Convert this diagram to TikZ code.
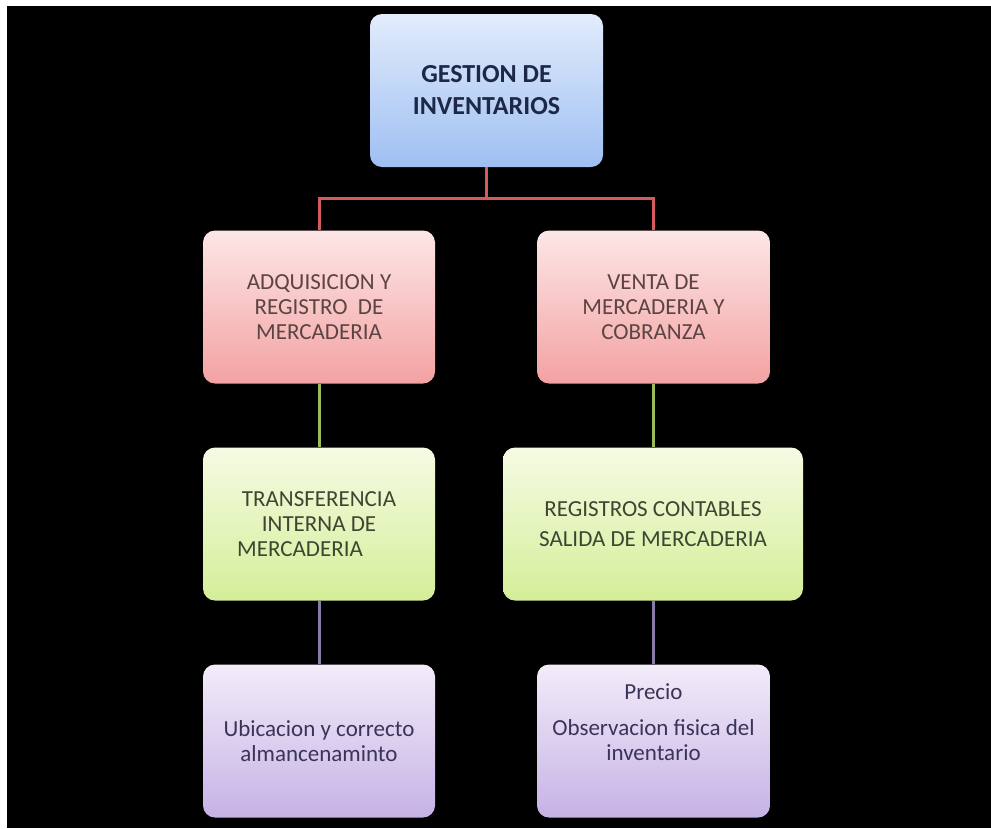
\documentclass[tikz,border=0pt]{standalone}
\usepackage{fontspec}
\setmainfont{Carlito}
\begin{document}
\definecolor{blueTop}{HTML}{E2ECFC}
\definecolor{blueBot}{HTML}{9EBFF2}
\definecolor{pinkTop}{HTML}{FDE6E6}
\definecolor{pinkBot}{HTML}{F3A2A2}
\definecolor{greenTop}{HTML}{F6FBE4}
\definecolor{greenBot}{HTML}{D4EE98}
\definecolor{purpTop}{HTML}{F2ECF9}
\definecolor{purpBot}{HTML}{C6B2E6}
\definecolor{lineRed}{HTML}{D65A5A}
\definecolor{lineGreen}{HTML}{9BBB59}
\definecolor{linePurp}{HTML}{8A7AAA}
\definecolor{txtBlue}{HTML}{1C2846}
\definecolor{txtPink}{HTML}{5C4444}
\definecolor{txtGreen}{HTML}{3E4632}
\definecolor{txtPurp}{HTML}{3A3458}
\begin{tikzpicture}[x=1pt,y=-1pt,
  box/.style={rounded corners=12pt, align=center, inner sep=0pt,
    minimum height=153pt, font=\fontsize{23}{25}\selectfont},
  topbox/.style={box, top color=blueTop, bottom color=blueBot, text=txtBlue,
    minimum width=233pt, font=\fontsize{26}{32}\selectfont\bfseries},
  pinkbox/.style={box, top color=pinkTop, bottom color=pinkBot, text=txtPink},
  greenbox/.style={box, top color=greenTop, bottom color=greenBot, text=txtGreen},
  purpbox/.style={box, top color=purpTop, bottom color=purpBot, text=txtPurp},
  link/.style={line width=3pt}]
  % page and dark backdrop
  \fill[white] (0,0) rectangle (991,828);
  \fill[black] (7,6) rectangle (991,828);
  \useasboundingbox (0,0) rectangle (991,828);

  % boxes
  \node[topbox] (top) at (486.5,90.5) {GESTION DE\\INVENTARIOS};
  \node[pinkbox, minimum width=232pt] (adq) at (319,307)
    {ADQUISICION Y\\REGISTRO~~DE\\MERCADERIA};
  \node[pinkbox, minimum width=233pt] (venta) at (653.5,307)
    {VENTA DE\\MERCADERIA Y\\COBRANZA};
  \node[greenbox, minimum width=232pt] (transf) at (319,524)
    {TRANSFERENCIA\\INTERNA DE\\MERCADERIA\hspace*{38pt}};
  \node[greenbox, minimum width=300pt] (regis) at (653,524)
    {REGISTROS CONTABLES\\[5pt]SALIDA DE MERCADERIA};
  \node[purpbox, minimum width=232pt] (ubic) at (319,741)
    {Ubicacion y correcto\\almancenaminto};
  \node[purpbox, minimum width=233pt] (precio) at (653.5,741)
    {\raisebox{16pt}[\height][\depth]{\begin{tabular}{@{}c@{}}Precio\\[11pt]Observacion fisica del\\inventario\end{tabular}}};

  % connectors
  \coordinate (bar) at (486.5,198);
  \draw[link, lineRed] (top.south) -- (top.south |- bar) -| (adq.north);
  \draw[link, lineRed] (top.south |- bar) -| (venta.north);
  \draw[link, lineGreen] (adq.south) -- (transf.north);
  \draw[link, lineGreen] (venta.south) -- (venta.south |- regis.north);
  \draw[link, linePurp] (transf.south) -- (ubic.north);
  \draw[link, linePurp] (precio.north |- regis.south) -- (precio.north);
\end{tikzpicture}
\end{document}
